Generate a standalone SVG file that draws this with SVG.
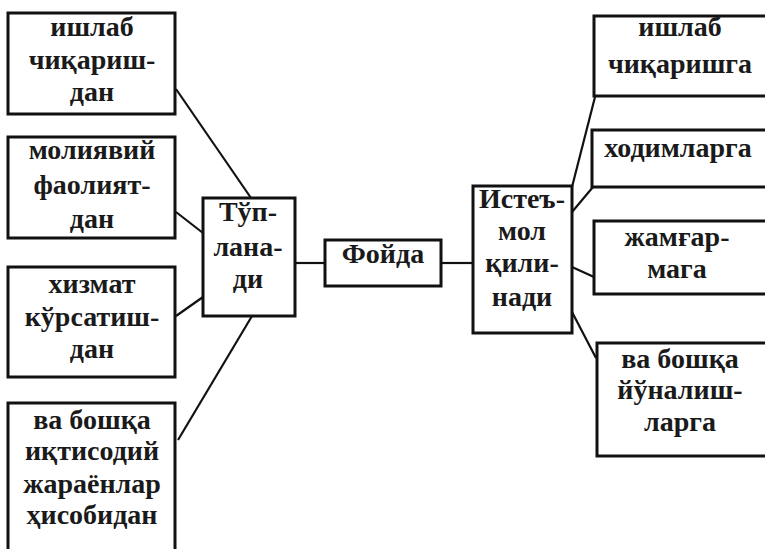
<svg xmlns="http://www.w3.org/2000/svg" width="765" height="549" viewBox="0 0 765 549">
<style>
.box{fill:#fff;stroke:#111;stroke-width:3}
.t{font-family:"Liberation Serif","DejaVu Serif",serif;font-size:28px;font-weight:bold;fill:#1a1a1a;text-anchor:middle}
.c{stroke:#111;stroke-width:2.2;fill:none}
</style>
<rect width="765" height="549" fill="#fff"/>
<g id="connectors">
<line class="c" x1="176" y1="89" x2="251" y2="198"/>
<line class="c" x1="176" y1="212" x2="203" y2="233"/>
<line class="c" x1="176" y1="316" x2="203" y2="297"/>
<line class="c" x1="178" y1="440" x2="252" y2="316"/>
<line class="c" x1="295" y1="263" x2="325" y2="263"/>
<line class="c" x1="441" y1="263" x2="473" y2="263"/>
<line class="c" x1="595" y1="97" x2="572" y2="187"/>
<line class="c" x1="572" y1="212" x2="593" y2="187"/>
<line class="c" x1="572" y1="267" x2="594" y2="277"/>
<line class="c" x1="572" y1="312" x2="596" y2="358"/>
<polygon points="479,260 492,257 487,269" fill="#111"/>
</g>
<g id="n1"><rect class="box" x="8" y="13" width="167" height="101"/>
<text class="t" x="92" y="36">ишлаб</text><text class="t" x="92" y="69">чиқариш-</text><text class="t" x="92" y="101">дан</text></g>
<g id="n2"><rect class="box" x="8" y="137" width="167" height="101"/>
<text class="t" x="92" y="159">молиявий</text><text class="t" x="92" y="194">фаолият-</text><text class="t" x="92" y="228">дан</text></g>
<g id="n3"><rect class="box" x="8" y="267" width="167" height="110"/>
<text class="t" x="92" y="293">хизмат</text><text class="t" x="92" y="326">кўрсатиш-</text><text class="t" x="92" y="358">дан</text></g>
<g id="n4"><rect class="box" x="8" y="403" width="167" height="160"/>
<text class="t" x="92" y="429">ва бошқа</text><text class="t" x="92" y="460">иқтисодий</text><text class="t" x="92" y="493">жараёнлар</text><text class="t" x="92" y="524">ҳисобидан</text></g>
<g id="tuplanadi"><rect class="box" x="203" y="198" width="92" height="118"/>
<text class="t" x="248" y="221">Тўп-</text><text class="t" x="248" y="256">лана-</text><text class="t" x="248" y="288">ди</text></g>
<g id="foyda"><rect class="box" x="325" y="240" width="116" height="46"/>
<text class="t" x="383" y="263">Фойда</text></g>
<g id="istemol"><rect class="box" x="473" y="186" width="99" height="147"/>
<text class="t" x="522" y="208">Истеъ-</text><text class="t" x="522" y="240">мол</text><text class="t" x="522" y="272">қили-</text><text class="t" x="522" y="306">нади</text></g>
<g id="r1"><rect class="box" x="594" y="16" width="180" height="80"/>
<text class="t" x="680" y="36">ишлаб</text><text class="t" x="680" y="73">чиқаришга</text></g>
<g id="r2"><rect class="box" x="592" y="130" width="180" height="57"/>
<text class="t" x="678" y="157">ходимларга</text></g>
<g id="r3"><rect class="box" x="594" y="221" width="180" height="73"/>
<text class="t" x="677" y="246">жамғар-</text><text class="t" x="677" y="278">мага</text></g>
<g id="r4"><rect class="box" x="597" y="343" width="180" height="113"/>
<text class="t" x="680" y="368">ва бошқа</text><text class="t" x="680" y="399">йўналиш-</text><text class="t" x="680" y="431">ларга</text></g>
</svg>
